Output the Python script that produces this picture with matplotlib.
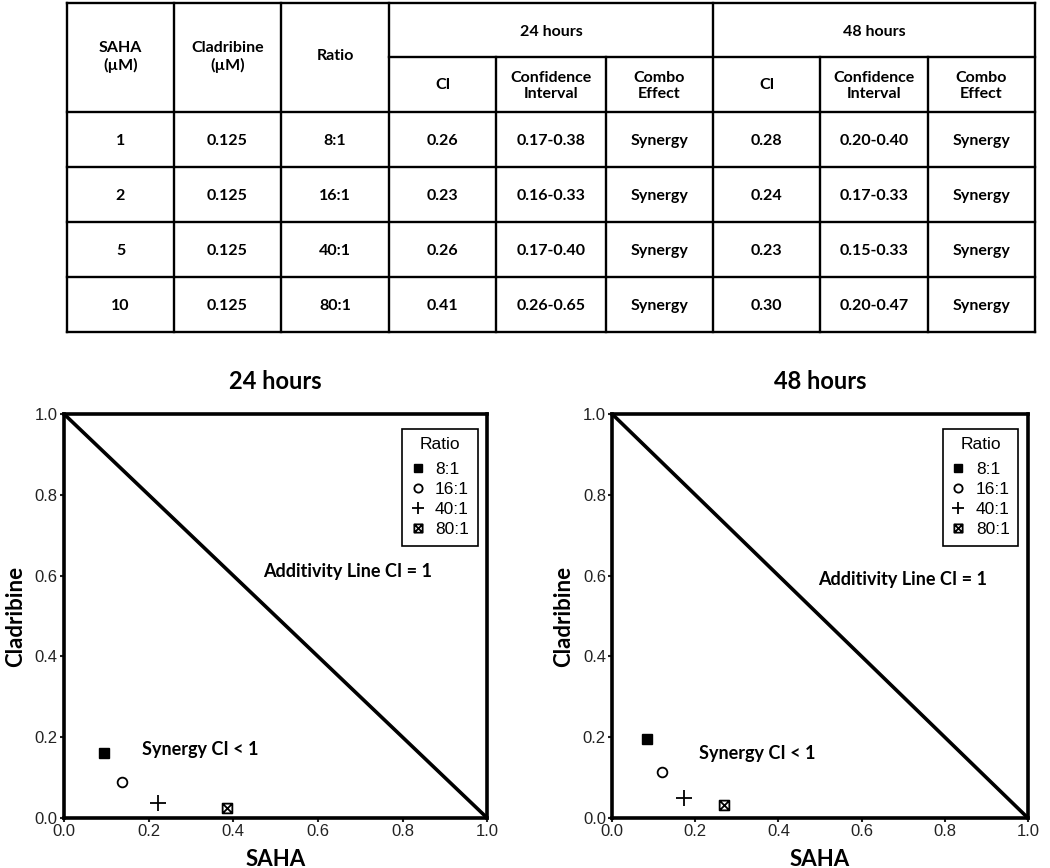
import numpy as np
import matplotlib
matplotlib.use("Agg")
from matplotlib import pyplot as plt
from matplotlib.path import Path

# table data
col_heads = ["SAHA\n(µM)", "Cladribine\n(µM)", "Ratio"]
sub_heads = ["CI", "Confidence\nInterval", "Combo\nEffect"]
time_heads = ["24 hours", "48 hours"]
saha_um = ["1", "2", "5", "10"]
clad_um = ["0.125", "0.125", "0.125", "0.125"]
ratios = ["8:1", "16:1", "40:1", "80:1"]
ci_24 = ["0.26", "0.23", "0.26", "0.41"]
conf_24 = ["0.17-0.38", "0.16-0.33", "0.17-0.40", "0.26-0.65"]
ci_48 = ["0.28", "0.24", "0.23", "0.30"]
conf_48 = ["0.20-0.40", "0.17-0.33", "0.15-0.33", "0.20-0.47"]
effect = ["Synergy", "Synergy", "Synergy", "Synergy"]

# isobologram data (fraction of SAHA, fraction of cladribine)
saha_24 = [0.094, 0.138, 0.223, 0.384]
clad_24 = [0.161, 0.088, 0.036, 0.026]
saha_48 = [0.085, 0.119, 0.173, 0.270]
clad_48 = [0.195, 0.114, 0.050, 0.032]

bold_font = ["Lato", "DejaVu Sans"]
plt.rcParams["font.family"] = ["Liberation Sans", "DejaVu Sans"]

fig = plt.figure(figsize=(10.5, 8.68), dpi=100)

# ---- table drawn in pixel coordinates ----
tab = fig.add_axes([0, 0, 1, 1])
tab.set_xlim(0, 1050)
tab.set_ylim(868, 0)
tab.axis("off")

xs = [67, 174, 281, 389, 496, 606, 713, 820, 928, 1035]
ys = [3, 57, 112, 167, 222, 277, 332]
lw = 1.7
tab.plot([xs[0], xs[-1]], [ys[0], ys[0]], color="black", lw=lw)
tab.plot([xs[3], xs[-1]], [ys[1], ys[1]], color="black", lw=lw)
for y in ys[2:]:
    tab.plot([xs[0], xs[-1]], [y, y], color="black", lw=lw)
for i, x in enumerate(xs):
    top = ys[1] if i in (4, 5, 7, 8) else ys[0]
    tab.plot([x, x], [top, ys[-1]], color="black", lw=lw)

tkw = dict(ha="center", va="center_baseline", fontsize=11.5, fontweight="bold",
           family=bold_font, linespacing=1.2)
for i, h in enumerate(col_heads):
    tab.text((xs[i] + xs[i + 1]) / 2, (ys[0] + ys[2]) / 2 - 3, h, **tkw)
for k, h in enumerate(time_heads):
    tab.text((xs[3 + 3 * k] + xs[6 + 3 * k]) / 2, (ys[0] + ys[1]) / 2 + 1, h, **tkw)
    for j, s in enumerate(sub_heads):
        c = 3 + 3 * k + j
        tab.text((xs[c] + xs[c + 1]) / 2, (ys[1] + ys[2]) / 2 - 1, s, **tkw)

columns = [saha_um, clad_um, ratios, ci_24, conf_24, effect, ci_48, conf_48, effect]
for r in range(4):
    yc = (ys[2 + r] + ys[3 + r]) / 2
    for c, col in enumerate(columns):
        tab.text((xs[c] + xs[c + 1]) / 2, yc, col[r], **tkw)

# ---- isobolograms ----
box_x = Path([(-1, -1), (1, -1), (1, 1), (-1, 1), (-1, -1), (-1, -1), (1, 1), (-1, 1), (1, -1)],
             [Path.MOVETO, Path.LINETO, Path.LINETO, Path.LINETO, Path.CLOSEPOLY,
              Path.MOVETO, Path.LINETO, Path.MOVETO, Path.LINETO])
styles = [
    dict(marker="s", markersize=6.5, markerfacecolor="black", markeredgecolor="black"),
    dict(marker="o", markersize=7, markerfacecolor="white", markeredgecolor="black", markeredgewidth=1.3),
    dict(marker="+", markersize=11, markeredgecolor="black", markeredgewidth=1.3),
    dict(marker=box_x, markersize=7, markerfacecolor="none", markeredgecolor="black", markeredgewidth=1.3),
]

panels = [
    ([0.061, 0.0576, 0.403, 0.4654], saha_24, clad_24, "24 hours", (0.47, 0.61), (0.185, 0.17)),
    ([0.583, 0.0576, 0.396, 0.4654], saha_48, clad_48, "48 hours", (0.495, 0.59), (0.21, 0.16)),
]
for rect, sx, cy, title, add_pos, syn_pos in panels:
    ax = fig.add_axes(rect)
    ax.plot([0, 1], [1, 0], color="black", lw=2.6, zorder=2)
    for i in range(4):
        ax.plot([sx[i]], [cy[i]], linestyle="none", label=ratios[i], zorder=3, **styles[i])
    ax.set_xlim(0, 1)
    ax.set_ylim(0, 1)
    ax.set_xticks(np.arange(0, 1.01, 0.2))
    ax.set_yticks(np.arange(0, 1.01, 0.2))
    ax.xaxis.set_major_formatter(matplotlib.ticker.FormatStrFormatter("%.1f"))
    ax.yaxis.set_major_formatter(matplotlib.ticker.FormatStrFormatter("%.1f"))
    ax.tick_params(labelsize=12, length=3, width=1.5, pad=1.5, colors="#222222")
    for sp in ax.spines.values():
        sp.set_linewidth(2.6)
    ax.set_xlabel("SAHA", fontsize=16, fontweight="bold", family=bold_font, labelpad=7)
    ax.set_ylabel("Cladribine", fontsize=16, fontweight="bold", family=bold_font, labelpad=6)
    ax.set_title(title, fontsize=17, fontweight="bold", family=bold_font, pad=18)
    ax.text(add_pos[0], add_pos[1], "Additivity Line CI = 1", transform=ax.transData,
            fontsize=13, fontweight="bold", family=bold_font, va="center")
    ax.text(syn_pos[0], syn_pos[1], "Synergy CI < 1", transform=ax.transData,
            fontsize=13, fontweight="bold", family=bold_font, va="center")
    leg = ax.legend(title="Ratio", loc="upper right", bbox_to_anchor=(0.998, 0.985),
                    fancybox=False, edgecolor="black", fontsize=12.5, title_fontsize=12.5,
                    handlelength=0.8, handletextpad=0.6, borderpad=0.5, labelspacing=0.28,
                    framealpha=1, markerscale=0.85)
    leg.get_frame().set_linewidth(1.2)
    leg._legend_box.sep = 7

fig.savefig("out.png", dpi=100)
